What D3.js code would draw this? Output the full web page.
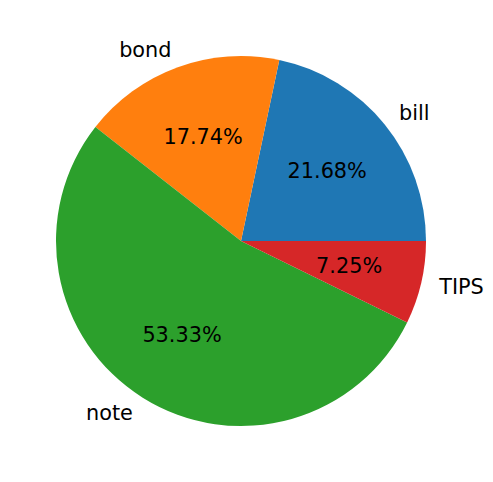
<html>
<script src="https://d3js.org/d3.v7.min.js"></script>
<body style="margin:0;background:#fff">
<div id="chart"></div>
<script>

// slice labels and their shares, in matplotlib order
var labels = ["bill", "bond", "note", "TIPS"];
var shares = [21.68, 17.74, 53.33, 7.25];
var colors = ["#1f77b4", "#ff7f0e", "#2ca02c", "#d62728"];

var width = 493, height = 482;
var cx = 241, cy = 241, radius = 185;

var svg = d3.select("#chart")
    .append("svg")
    .attr("width", width)
    .attr("height", height)
    .append("g")
    .attr("transform", "translate(" + cx + "," + cy + ")");

// matplotlib starts at 3 o'clock and goes counterclockwise
var pie = d3.pie()
    .sort(null)
    .value(function(d) { return d; })
    .startAngle(Math.PI / 2)
    .endAngle(Math.PI / 2 - 2 * Math.PI);

var arcs = pie(shares);

var arc = d3.arc().innerRadius(0).outerRadius(radius);

svg.selectAll("path")
    .data(arcs)
    .enter()
    .append("path")
    .attr("d", arc)
    .attr("fill", function(d, i) { return colors[i]; });

function mid(d) { return (d.startAngle + d.endAngle) / 2; }

// outer category labels
svg.selectAll(".lab")
    .data(arcs)
    .enter()
    .append("text")
    .attr("x", function(d) { return Math.sin(mid(d)) * radius * 1.1; })
    .attr("y", function(d) { return -Math.cos(mid(d)) * radius * 1.1; })
    .attr("dy", "0.33em")
    .attr("text-anchor", function(d) { return Math.sin(mid(d)) > 0 ? "start" : "end"; })
    .style("font-family", "DejaVu Sans")
    .style("font-size", "20.8px")
    .text(function(d, i) { return labels[i]; });

// percentage labels
svg.selectAll(".pct")
    .data(arcs)
    .enter()
    .append("text")
    .attr("x", function(d) { return Math.sin(mid(d)) * radius * 0.6; })
    .attr("y", function(d) { return -Math.cos(mid(d)) * radius * 0.6; })
    .attr("dy", "0.33em")
    .attr("text-anchor", "middle")
    .style("font-family", "DejaVu Sans")
    .style("font-size", "20.8px")
    .text(function(d) { return d.data.toFixed(2) + "%"; });

</script>
</body>
</html>
